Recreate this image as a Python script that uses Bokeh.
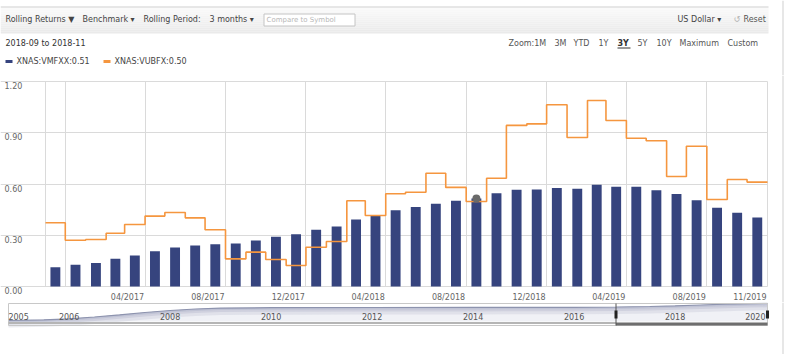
import pandas as pd
from bokeh.plotting import figure
from bokeh.layouts import column
from bokeh.models import Range1d, FixedTicker, Grid, Span
from bokeh.core.properties import value
from bokeh.embed import file_html
from bokeh.resources import INLINE

# ---------------- data ----------------
months = ["2016-11", "2016-12", "2017-01", "2017-02", "2017-03", "2017-04", "2017-05", "2017-06",
          "2017-07", "2017-08", "2017-09", "2017-10", "2017-11", "2017-12", "2018-01", "2018-02",
          "2018-03", "2018-04", "2018-05", "2018-06", "2018-07", "2018-08", "2018-09", "2018-10",
          "2018-11", "2018-12", "2019-01", "2019-02", "2019-03", "2019-04", "2019-05", "2019-06",
          "2019-07", "2019-08", "2019-09", "2019-10"]
vmfxx = [0.113, 0.127, 0.137, 0.162, 0.181, 0.207, 0.228, 0.240, 0.248, 0.252, 0.269, 0.291,
         0.306, 0.332, 0.351, 0.392, 0.416, 0.447, 0.466, 0.484, 0.502, 0.515, 0.546, 0.566,
         0.568, 0.576, 0.572, 0.595, 0.584, 0.584, 0.564, 0.541, 0.505, 0.461, 0.431, 0.404]
vubfx = [0.373, 0.271, 0.275, 0.312, 0.363, 0.412, 0.433, 0.402, 0.332, 0.162, 0.201, 0.158,
         0.123, 0.230, 0.263, 0.502, 0.416, 0.543, 0.552, 0.663, 0.580, 0.498, 0.634, 0.943,
         0.952, 1.064, 0.872, 1.089, 0.972, 0.868, 0.853, 0.644, 0.821, 0.509, 0.626, 0.611]
period_end = "2019-11"
hover_index = 21
series_names = ["XNAS:VMFXX:0.51", "XNAS:VUBFX:0.50"]

y_ticks = [0.0, 0.3, 0.6, 0.9, 1.2]
y_tick_labels = ["0.00", "0.30", "0.60", "0.90", "1.20"]
x_grid_months = ["2016-11", "2016-12", "2017-04", "2017-08", "2017-12", "2018-04", "2018-08",
                 "2018-12", "2019-04", "2019-08", "2019-11"]
x_label_months = ["2017-04", "2017-08", "2017-12", "2018-04", "2018-08", "2018-12", "2019-04",
                  "2019-08", "2019-11"]

nav_years = [2004.8, 2005.5, 2006.0, 2006.5, 2007.0, 2007.5, 2008.0, 2008.5, 2009.0, 2010.0,
             2012.0, 2014.0, 2016.0, 2016.83, 2017.5, 2018.0, 2018.5, 2019.0, 2019.5, 2019.83]
nav_values = [10000, 10097, 10236, 10486, 10792, 11111, 11389, 11597, 11722, 11778,
              11806, 11820, 11833, 11875, 11945, 12042, 12153, 12264, 12347, 12389]
nav_tick_years = [2005, 2006, 2008, 2010, 2012, 2014, 2016, 2018, 2020]
nav_window = [2016.83, 2019.83]

FONT = value("DejaVu Sans")
BLUE = "#36447e"
ORANGE = "#f5963f"
GRID = "#dadada"
W = 791


def ms(t):
    return pd.Timestamp(t).value / 1e6


# ---------------- header ----------------
h = figure(width=W, height=75, x_range=Range1d(0, W), y_range=Range1d(75, 0),
           x_axis_type=None, y_axis_type=None, toolbar_location=None, output_backend="svg",
           min_border=0, outline_line_color=None)
n = 13
for i in range(n):
    c = int(250 - (250 - 234) * i / (n - 1))
    h.quad(left=0, right=768, top=7 + 2 * i, bottom=9 + 2 * i,
           fill_color=f"#{c:02x}{c:02x}{c:02x}", line_color=None)
h.segment(x0=0, y0=6.5, x1=768, y1=6.5, line_color="#cfcfcf", line_width=1)
h.segment(x0=782.5, y0=0, x1=782.5, y1=75, line_color="#cfcfcf", line_width=1)
h.quad(left=263.5, right=354.5, top=13.5, bottom=25.5, fill_color="white", line_color="#c4c4c4")
h.text(x=[266], y=[19.5], text=["Compare to Symbol"], text_font=FONT, text_font_size="7px",
       text_color="#b8b8b8", text_baseline="middle")
tb_x = [5, 82, 143, 209, 677]
tb_t = ["Rolling Returns \u25bc", "Benchmark \u25be", "Rolling Period:", "3 months \u25be", "US Dollar \u25be"]
h.text(x=tb_x, y=[18.5] * len(tb_x), text=tb_t, text_font=FONT, text_font_size="8px",
       text_color="#444444", text_baseline="middle")
h.text(x=[733], y=[18.5], text=["\u21ba"], text_font=FONT, text_font_size="8px",
       text_color="#b0b0b0", text_baseline="middle")
h.text(x=[743], y=[18.5], text=["Reset"], text_font=FONT, text_font_size="8px",
       text_color="#555555", text_baseline="middle")
h.text(x=[5], y=[42.5], text=["2018-09 to 2018-11"], text_font=FONT, text_font_size="8px",
       text_color="#333333", text_baseline="middle")
z_x = [508, 554, 573, 598, 637, 656, 679, 727]
z_t = ["Zoom:1M", "3M", "YTD", "1Y", "5Y", "10Y", "Maximum", "Custom"]
h.text(x=z_x, y=[42.5] * len(z_x), text=z_t, text_font=FONT, text_font_size="8px",
       text_color="#555555", text_baseline="middle")
h.text(x=[617], y=[42.5], text=["3Y"], text_font=FONT, text_font_size="8px",
       text_font_style="bold", text_color="#333333", text_baseline="middle")
h.segment(x0=617, y0=47.5, x1=630, y1=47.5, line_color="#333333", line_width=1)
h.quad(left=5, right=12, top=59.5, bottom=62.5, fill_color=BLUE, line_color=None)
h.quad(left=103, right=110, top=59.5, bottom=62.5, fill_color=ORANGE, line_color=None)
h.text(x=[16, 114], y=[61, 61], text=series_names, text_font=FONT, text_font_size="8px",
       text_color="#444444", text_baseline="middle")

# ---------------- main chart (page rows 75..302) ----------------
starts = pd.to_datetime(months)
ends = starts + pd.offsets.MonthBegin(1)
centers = starts + (ends - starts) / 2
t_start = pd.Timestamp(months[0])
t_end = pd.Timestamp(period_end)
mpp = (ms(t_end) - ms(t_start)) / 722.0          # ms per pixel
x0 = ms(t_start) - 45 * mpp
x1 = x0 + W * mpp
ypp = 1.2 / 205.0                                # value per pixel
p = figure(width=W, height=227, x_range=Range1d(x0, x1),
           y_range=Range1d(-16 * ypp, 1.2 + 6 * ypp),
           x_axis_type=None, y_axis_type=None, toolbar_location=None, output_backend="svg",
           min_border=0, outline_line_color=None)
p.add_layout(Grid(dimension=0, ticker=FixedTicker(ticks=[ms(m) for m in x_grid_months]),
                  cross_bounds=(min(y_ticks), max(y_ticks)),
                  grid_line_color=GRID, grid_line_width=1))
p.add_layout(Grid(dimension=1, ticker=FixedTicker(ticks=y_ticks),
                  cross_bounds=(x0, ms(t_end)),
                  grid_line_color=GRID, grid_line_width=1))

p.vbar(x=[ms(c) for c in centers], top=vmfxx, bottom=0, width=15 * 86400000,
       fill_color=BLUE, line_color=None)
step_x = [ms(s) for s in starts] + [ms(t_end)]
step_y = vubfx + [vubfx[-1]]
p.step(x=step_x, y=step_y, mode="after", line_color=ORANGE, line_width=1.6)
p.scatter(x=[ms(centers[hover_index])], y=[vmfxx[hover_index]], size=8,
          fill_color="#6a6a6a", line_color=None)
# y tick labels
p.text(x=[x0] * len(y_ticks), y=y_ticks, text=y_tick_labels, x_offset=4, y_offset=0.5,
       text_baseline="top", text_align="left", text_font=FONT, text_font_size="8px",
       text_color="#666666")
# x tick labels (right-aligned at their month gridline)
lab_x = [ms(m) for m in x_label_months]
lab_t = [pd.Timestamp(m).strftime("%m/%Y") for m in x_label_months]
p.text(x=lab_x, y=[0] * len(lab_x), text=lab_t, x_offset=-1, y_offset=11,
       text_baseline="middle", text_align="right", text_font=FONT, text_font_size="8px",
       text_color="#666666")
p.add_layout(Span(location=x0 + 782.5 * mpp, dimension="height", line_color="#cfcfcf",
                  line_width=1))

# ---------------- navigator (page rows 302..354) ----------------
ppy = 50.5                       # px per year
ny0 = nav_years[0] - 8 / ppy
vpp = 138.9                      # value per px


def nv(px):
    return 10000 + (320 - px) * vpp


def nx(px):
    return ny0 + px / ppy


nfig = figure(width=W, height=52, x_range=Range1d(ny0, ny0 + W / ppy),
              y_range=Range1d(nv(354), nv(302)), x_axis_type=None, y_axis_type=None,
              toolbar_location=None, output_backend="svg", min_border=0, outline_line_color=None)
nfig.varea(x=nav_years, y1=nav_values, y2=[nv(321)] * len(nav_years), fill_color="#f0f1f6")
for k, a in [(7, 0.25), (4, 0.35), (2, 0.45)]:
    nfig.varea(x=nav_years, y1=nav_values, y2=[v - k * vpp for v in nav_values],
               fill_color="#aeb3c9", fill_alpha=a)
nfig.line(x=nav_years, y=nav_values, line_color="#8d93ae", line_width=1.2)
nfig.quad(left=nx(8), right=nav_window[1], top=nv(303), bottom=nv(325),
          fill_color=None, line_color="#c8c8c8")
nfig.segment(x0=nx(8), y0=nv(322.5), x1=nav_window[0], y1=nv(322.5),
             line_color="#b5b5b5", line_width=2)
nfig.segment(x0=nav_window[0], y0=nv(323.5), x1=nav_window[1], y1=nv(323.5),
             line_color="#6e6e6e", line_width=3)
nfig.segment(x0=nav_window[0], y0=nv(303), x1=nav_window[0], y1=nv(325),
             line_color="#555555", line_width=1)
nfig.rect(x=nav_window, y=[nv(314)] * 2, width=3, height=8, width_units="screen",
          height_units="screen", fill_color="#222222", line_color=None)
inner = [yr for yr in nav_tick_years if yr < nav_window[1]]
nfig.text(x=inner, y=[nv(315.5)] * len(inner), text=[str(yr) for yr in inner], text_font=FONT,
          text_font_size="8px", text_color="#555555", text_align="center", text_baseline="middle")
outer = [yr for yr in nav_tick_years if yr >= nav_window[1]]
nfig.text(x=[nav_window[1]] * len(outer), y=[nv(315.5)] * len(outer), text=[str(yr) for yr in outer],
          x_offset=-2, text_font=FONT, text_font_size="8px", text_color="#555555",
          text_align="right", text_baseline="middle")
nfig.segment(x0=nx(782.5), y0=nv(302), x1=nx(782.5), y1=nv(354), line_color="#cfcfcf", line_width=1)

layout = column(h, p, nfig, spacing=0)
open("out.html", "w").write(file_html(layout, INLINE))
